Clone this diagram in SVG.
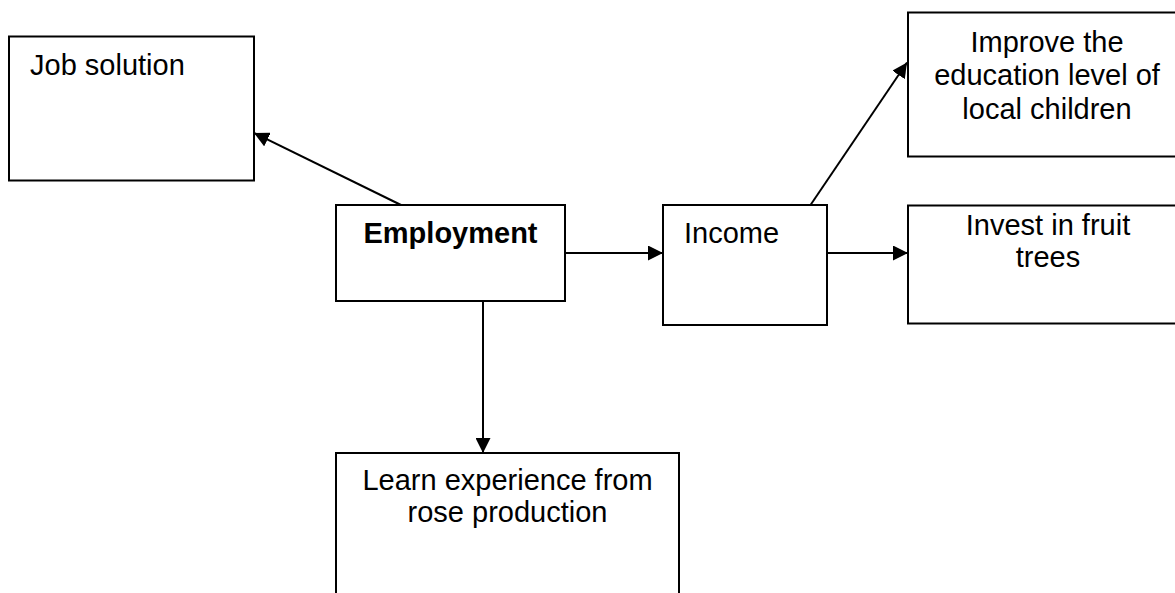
<svg xmlns="http://www.w3.org/2000/svg" width="1175" height="593" viewBox="0 0 1175 593">
<style>
.box{fill:#fff;stroke:#000;stroke-width:2}
.t{font-family:"Liberation Sans",Arial,sans-serif;font-size:29px;fill:#000}
.c{text-anchor:middle}
.b{font-weight:bold}
.conn line{stroke:#000;stroke-width:2}
</style>
<defs>
<marker id="ah" viewBox="0 0 15 15" refX="15" refY="7.5" markerWidth="15" markerHeight="15" markerUnits="userSpaceOnUse" orient="auto">
<path d="M0,0 L15,7.5 L0,15 z" fill="#000"/>
</marker>
</defs>
<rect width="1175" height="593" fill="#fff"/>
<g id="connectors" class="conn">
<line x1="401" y1="205" x2="254" y2="133" marker-end="url(#ah)"/>
<line x1="565" y1="253" x2="663" y2="253" marker-end="url(#ah)"/>
<line x1="483" y1="301" x2="483" y2="453" marker-end="url(#ah)"/>
<line x1="810.5" y1="205" x2="907" y2="62.5" marker-end="url(#ah)"/>
<line x1="827" y1="253" x2="908" y2="253" marker-end="url(#ah)"/>
</g>
<g id="job">
<rect class="box" x="9" y="36.5" width="245" height="144"/>
<text class="t" x="30" y="75">Job solution</text>
</g>
<g id="employment">
<rect class="box" x="336" y="205" width="229" height="96"/>
<text class="t b c" x="450.5" y="243">Employment</text>
</g>
<g id="income">
<rect class="box" x="663" y="205" width="164" height="120"/>
<text class="t" x="684" y="243">Income</text>
</g>
<g id="education">
<rect class="box" x="908" y="12.5" width="280" height="144"/>
<text class="t c" x="1047" y="51.5">Improve the</text>
<text class="t c" x="1047" y="85">education level of</text>
<text class="t c" x="1047" y="118.5">local children</text>
</g>
<g id="fruit">
<rect class="box" x="908" y="205.5" width="280" height="118"/>
<text class="t c" x="1048" y="235">Invest in fruit</text>
<text class="t c" x="1048" y="267">trees</text>
</g>
<g id="learn">
<rect class="box" x="336" y="453" width="343" height="160"/>
<text class="t c" x="507.5" y="490">Learn experience from</text>
<text class="t c" x="507.5" y="521.5">rose production</text>
</g>
</svg>
